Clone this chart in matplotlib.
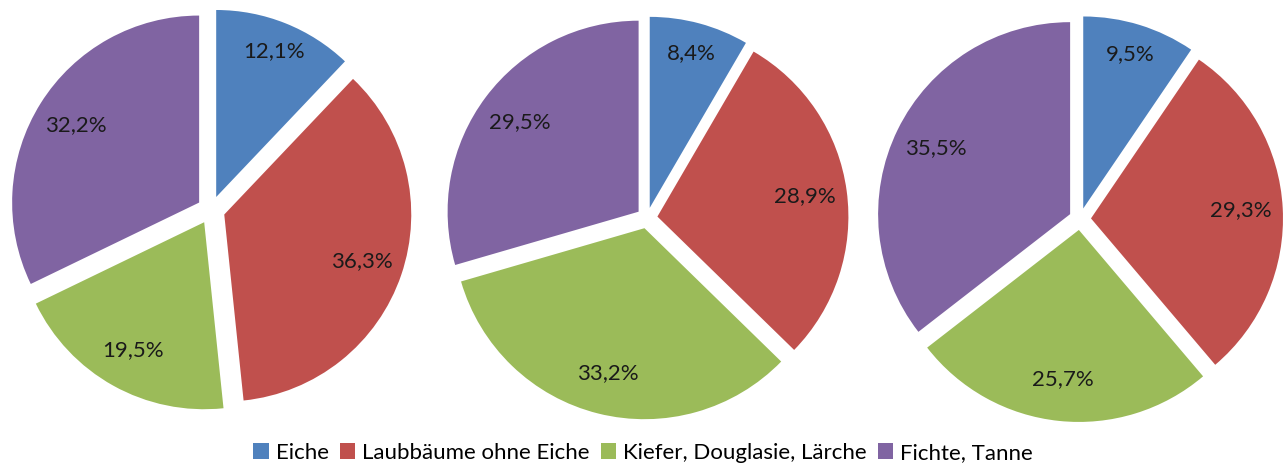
import matplotlib
matplotlib.use("Agg")
import matplotlib.pyplot as plt
import numpy as np
from matplotlib.patches import Patch

plt.rcParams['font.family'] = ['Lato', 'DejaVu Sans']

categories = ["Eiche", "Laubbäume ohne Eiche", "Kiefer, Douglasie, Lärche", "Fichte, Tanne"]
pie1_values = [12.1, 36.3, 19.5, 32.2]
pie2_values = [8.4, 28.9, 33.2, 29.5]
pie3_values = [9.5, 29.3, 25.7, 35.5]
colors = ["#4F81BD", "#C0504D", "#9BBB59", "#8064A2"]

W, H = 1286, 467
fig = plt.figure(figsize=(W / 100, H / 100), dpi=100)
ax = fig.add_axes([0, 0, 1, 1])

# (center x, center y from top, radius, explosion offset) in pixels
layouts = [
    (211, 210, 187, 14),
    (647, 218, 191, 10.5),
    (1080, 219, 192, 11),
]
all_values = [pie1_values, pie2_values, pie3_values]

for values, (cx, cy, r, e) in zip(all_values, layouts):
    wedges, _ = ax.pie(values, colors=colors, startangle=90, counterclock=False,
                       center=(cx, H - cy), radius=r, explode=[e] * len(values),
                       wedgeprops=dict(linewidth=0), normalize=True)
    total = sum(values)
    start = 90.0
    for v, w in zip(values, wedges):
        span = 360.0 * v / total
        mid = np.deg2rad(start - span / 2)
        start -= span
        frac = 0.84 if v < 15 else 0.78
        d = e + frac * r
        ax.text(cx + d * np.cos(mid), H - cy + d * np.sin(mid),
                f"{v:.1f}".replace(".", ",") + "%",
                ha="center", va="center", fontsize=16, color="#1a1a1a")

ax.set_xlim(0, W)
ax.set_ylim(0, H)
ax.set_aspect("equal")
ax.axis("off")

handles = [Patch(facecolor=c, edgecolor="none") for c in colors]
fig.legend(handles, categories, loc="lower center", bbox_to_anchor=(0.5, -0.01),
           ncol=4, frameon=False, fontsize=16, handlelength=0.7, handleheight=0.7,
           handletextpad=0.3, columnspacing=0.5, borderaxespad=0.0)

fig.savefig("out.png", dpi=100, facecolor="white")
